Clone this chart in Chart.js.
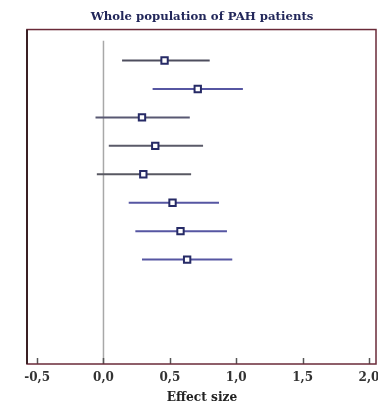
<!DOCTYPE html>
<html>
<head>
<meta charset="utf-8">
<script src="https://cdn.jsdelivr.net/npm/chart.js@4/dist/chart.umd.min.js"></script>
<style>
  html, body { margin: 0; padding: 0; background: #ffffff; }
  #wrap { width: 378px; height: 406px; position: relative; }
</style>
</head>
<body>
<div id="wrap"><canvas id="c" width="378" height="406"></canvas></div>
<script>
// ---- data ----
const rows = [1, 2, 3, 4, 5, 6, 7, 8];
const effect = [0.46, 0.71, 0.29, 0.39, 0.30, 0.52, 0.58, 0.63];
const lower  = [0.14, 0.37, -0.06, 0.04, -0.05, 0.19, 0.24, 0.29];
const upper  = [0.80, 1.05, 0.65, 0.75, 0.66, 0.87, 0.93, 0.97];
const lineColors = ['#4e4e5e', '#5656a2', '#585872', '#5a5a68', '#585862', '#5656a2', '#5656a2', '#5656a2'];
const tickValues = [-0.5, 0, 0.5, 1.0, 1.5, 2.0];
const tickLabels = ['-0,5', '0,0', '0,5', '1,0', '1,5', '2,0'];

const Y_MIN = -0.09, Y_MAX = 11.67;

const datasets = [];
// zero reference line
datasets.push({
  type: 'scatter',
  data: [{x: 0, y: 0.3}, {x: 0, y: Y_MAX}],
  showLine: true,
  borderColor: '#a8a8a8',
  borderWidth: 1.5,
  pointRadius: 0,
  order: 3
});
// confidence intervals
rows.forEach((r, i) => {
  datasets.push({
    type: 'scatter',
    data: [{x: lower[i], y: r}, {x: upper[i], y: r}],
    showLine: true,
    borderColor: lineColors[i],
    borderWidth: 2,
    pointRadius: 0,
    order: 2
  });
});
// point estimates
datasets.push({
  type: 'scatter',
  data: rows.map((r, i) => ({x: effect[i], y: r})),
  pointStyle: 'rect',
  pointRadius: 4.5,
  pointBackgroundColor: '#ffffff',
  pointBorderColor: '#262a66',
  pointBorderWidth: 2,
  order: 1
});

const framePlugin = {
  id: 'frame',
  afterDatasetsDraw(chart) {
    const {ctx, chartArea: a, scales} = chart;
    ctx.save();
    // inward tick marks
    ctx.strokeStyle = '#555555';
    ctx.lineWidth = 1.5;
    tickValues.forEach(v => {
      const px = Math.round(scales.x.getPixelForValue(v)) + 0.5;
      ctx.beginPath();
      ctx.moveTo(px, a.bottom);
      ctx.lineTo(px, a.bottom - 6);
      ctx.stroke();
    });
    // frame
    ctx.strokeStyle = '#6a2a38';
    ctx.lineWidth = 1.5;
    ctx.strokeRect(a.left, a.top, a.right - a.left - 1, a.bottom - a.top);
    ctx.strokeStyle = '#3a2024';
    ctx.lineWidth = 2;
    ctx.beginPath();
    ctx.moveTo(a.left, a.top);
    ctx.lineTo(a.left, a.bottom);
    ctx.stroke();
    ctx.restore();
  }
};

new Chart(document.getElementById('c'), {
  type: 'scatter',
  data: { datasets },
  options: {
    responsive: false,
    animation: false,
    layout: { padding: { left: 27, right: 1, top: 0, bottom: 0 }, autoPadding: false },
    plugins: {
      legend: { display: false },
      tooltip: { enabled: false },
      title: {
        display: true,
        text: 'Whole population of PAH patients',
        color: '#22275a',
        font: { family: 'DejaVu Serif', weight: 'bold', size: 11.7 },
        padding: { top: 9.5, bottom: 6 }
      }
    },
    scales: {
      x: {
        type: 'linear',
        min: -0.576,
        max: 2.06,
        afterBuildTicks(scale) { scale.ticks = tickValues.map(v => ({value: v})); },
        afterFit(scale) {
          scale.paddingLeft = 0;
          scale.paddingRight = 0;
          scale.height = 42;
        },
        ticks: {
          color: '#333333',
          font: { family: 'DejaVu Serif', weight: 'bold', size: 12 },
          padding: 7,
          maxRotation: 0,
          autoSkip: false,
          callback(value) {
            const idx = tickValues.findIndex(t => Math.abs(t - value) < 1e-9);
            return idx >= 0 ? tickLabels[idx] : '';
          }
        },
        grid: { display: false, drawTicks: false },
        border: { display: false },
        title: {
          display: true,
          text: 'Effect size',
          color: '#222222',
          font: { family: 'DejaVu Serif', weight: 'bold', size: 12.2 },
          padding: { top: 6, bottom: 1 }
        }
      },
      y: {
        type: 'linear',
        display: false,
        reverse: true,
        min: Y_MIN,
        max: Y_MAX
      }
    }
  },
  plugins: [framePlugin]
});
</script>
</body>
</html>
